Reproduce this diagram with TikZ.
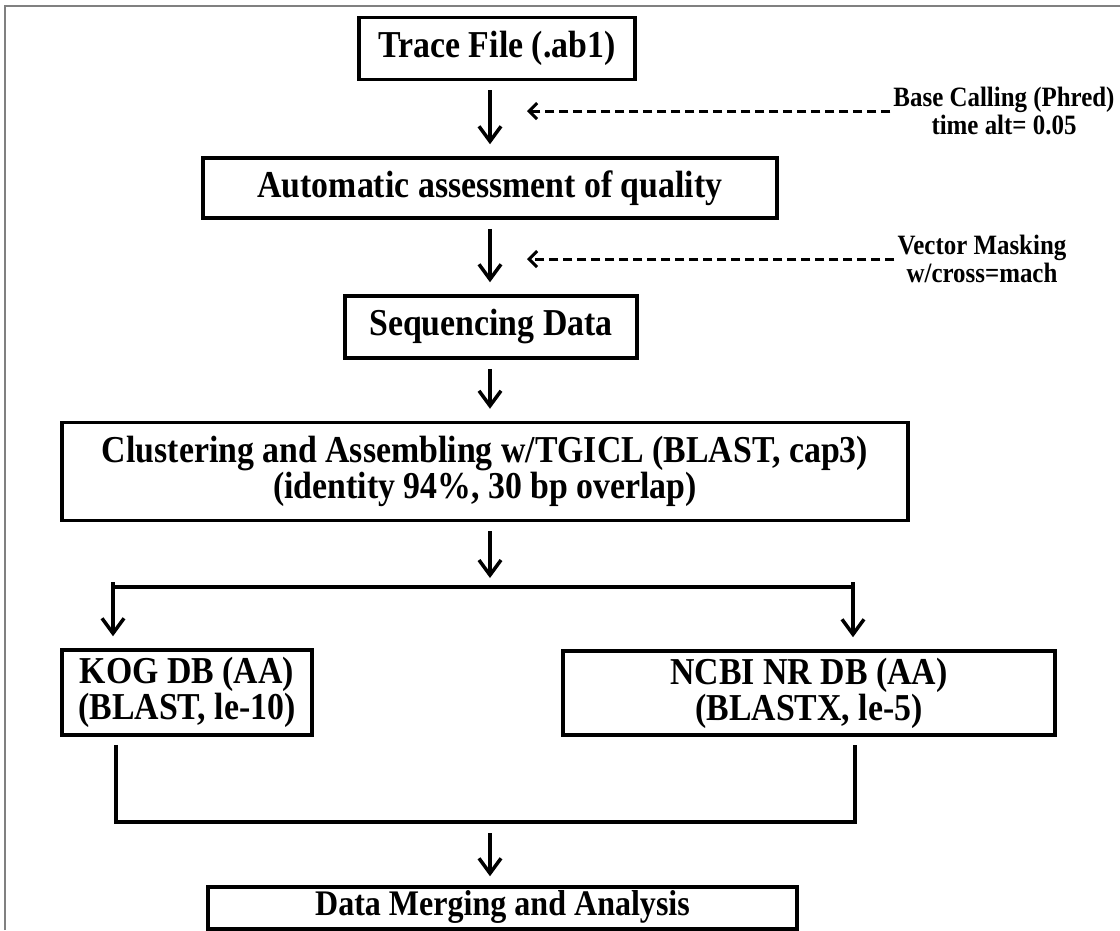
\documentclass[tikz,border=0pt]{standalone}
\usepackage{fontspec}
\setmainfont{Liberation Serif}[FakeStretch=0.89]
\usetikzlibrary{arrows.meta}
\begin{document}
\begin{tikzpicture}[x=1pt,y=-1pt,
  box/.style={draw, line width=3.5pt, inner sep=0pt, align=center,
    font=\fontsize{38}{36}\selectfont\bfseries},
  side/.style={inner sep=3pt, align=center,
    font=\fontsize{28}{28}\selectfont\bfseries},
  plain/.style={line width=3.5pt},
  flow/.style={line width=3.5pt, shorten <=9pt, shorten >=12pt,
    -{Straight Barb[length=15pt,width=22pt,line width=3.5pt]}},
  dflow/.style={line width=3pt, dash pattern=on 9pt off 5pt,
    -{Straight Barb[length=8pt,width=16pt,line width=3pt]}}]
\useasboundingbox (0,0) rectangle (1120,930);
% page frame
\draw[gray, line width=2pt] (5,930) -- (5,5.5) -- (1120,5.5);

% process boxes
\node[box, minimum width=276pt, minimum height=62pt] (trace) at (497,48.5) {Trace File (.ab1)};
\node[box, minimum width=574pt, minimum height=60pt] (auto) at (490,188) {Automatic assessment of quality};
\node[box, minimum width=292pt, minimum height=62pt] (seq) at (491,327) {Sequencing Data};
\node[box, minimum width=846pt, minimum height=98pt] (clus) at (485,471.5)
  {Clustering and Assembling w/TGICL (BLAST, cap3)\\(identity 94\%, 30 bp overlap)};
\node[box, minimum width=250pt, minimum height=85pt] (kog) at (187,692.5) {KOG DB (AA)\\(BLAST, le-10)};
\node[box, minimum width=492pt, minimum height=84pt] (ncbi) at (809,693) {NCBI NR DB (AA)\\(BLASTX, le-5)};
\node[box, minimum width=589pt, minimum height=42pt, text height=24pt, text depth=9pt,
  font=\fontsize{36}{36}\selectfont\bfseries]
  (merge) at (502.5,908) {Data Merging and Analysis};

% side notes
\node[side] (bc) at (1004,111) {Base Calling (Phred)\\time alt= 0.05};
\node[side] (vm) at (982,259) {Vector Masking\\w/cross=mach};

% main spine
\coordinate (spine) at (490,0);
\coordinate (dtip) at (527,0);
\draw[flow] (trace.south -| spine) -- (auto.north -| spine);
\draw[flow] (auto.south -| spine) -- (seq.north -| spine);
\draw[flow] (seq.south -| spine) -- (clus.north -| spine);
\draw[dflow] (bc.west) -- (bc.west -| dtip);
\draw[dflow] (vm.west) -- (vm.west -| dtip);

% split into the two databases
\coordinate (br) at (490,587);
\coordinate (brL) at (113,587);
\coordinate (brR) at (853,587);
\draw[flow, shorten >=9pt] (clus.south -| spine) -- (br);
\draw[plain] (brL) -- (brR);
\draw[flow, shorten <=-5pt] (brL) -- (brL |- kog.north);
\draw[flow, shorten <=-5pt] (brR) -- (brR |- ncbi.north);

% join back for merging
\coordinate (jl) at (116,822);
\coordinate (jr) at (855,822);
\coordinate (mj) at (490,822);
\draw[plain] ([yshift=-8pt]kog.south -| jl) -- (jl) -- (jr) -- ([yshift=-8pt]ncbi.south -| jr);
\draw[flow, shorten <=11pt, shorten >=9pt] (mj) -- (merge.north -| mj);
\end{tikzpicture}
\end{document}
